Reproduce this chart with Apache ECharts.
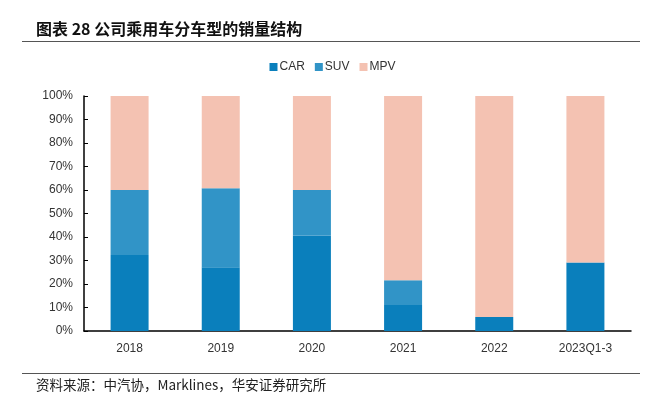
<!DOCTYPE html>
<html><head><meta charset="utf-8">
<script src="https://cdn.jsdelivr.net/npm/echarts@6/dist/echarts.min.js"></script>
<style>html,body{margin:0;padding:0;background:#fff}#c{width:665px;height:394px}</style>
</head><body><div id="c"></div>
<script>
const categories = ['2018','2019','2020','2021','2022','2023Q1-3'];
const carValues = [32.3, 27.1, 40.6, 11.1, 6.0, 29.1];
const suvValues = [27.7, 33.6, 19.4, 10.5, 0, 0];
const mpvValues = [40.0, 39.3, 40.0, 78.4, 94.0, 70.9];
const yTicks = [0,10,20,30,40,50,60,70,80,90,100];

const chart = echarts.init(document.getElementById('c'));
const font = 'Arial, "Liberation Sans", sans-serif';
chart.setOption({
  animation:false,
  title:[{text:'图表 28 公司乘用车分车型的销量结构', left:31, top:16,
    textStyle:{fontSize:16, fontWeight:'bold', color:'#111', fontFamily:'"Noto Sans CJK SC", sans-serif'}},
    {text:'资料来源：中汽协，Marklines，华安证券研究所', left:31, top:373,
    textStyle:{fontSize:13.5, fontWeight:'normal', color:'#222', fontFamily:'"Noto Sans CJK SC", sans-serif'}}],
  graphic:[
    {type:'line', shape:{x1:22,y1:41.5,x2:640,y2:41.5}, style:{stroke:'#555', lineWidth:1}},
    {type:'line', shape:{x1:22,y1:373.5,x2:640,y2:373.5}, style:{stroke:'#555', lineWidth:1}}
  ],
  legend:{top:56, left:'center', itemWidth:8, itemHeight:8, itemGap:10, icon:'rect',
    textStyle:{fontSize:12, color:'#333', fontFamily:font, padding:[0,0,0,-3]},
    data:['CAR','SUV','MPV']},
  grid:{left:84, right:34, top:96, bottom:63},
  xAxis:{type:'category', data:categories,
    axisLine:{lineStyle:{color:'#000', width:1.5}},
    axisTick:{inside:true, length:4, lineStyle:{color:'#000'}},
    axisLabel:{fontSize:12, color:'#333', fontFamily:font, margin:12}},
  yAxis:{type:'value', min:0, max:100, interval:10,
    axisLine:{show:true, lineStyle:{color:'#000', width:1.5}},
    axisTick:{show:true, inside:true, length:4, lineStyle:{color:'#000'}},
    splitLine:{show:false},
    axisLabel:{formatter:v=>v+'%', fontSize:12, color:'#333', fontFamily:font, margin:11}},
  series:[
    {name:'CAR', type:'bar', stack:'s', data:carValues, barWidth:38, itemStyle:{color:'#0A7FBC'}},
    {name:'SUV', type:'bar', stack:'s', data:suvValues, itemStyle:{color:'#3194C7'}},
    {name:'MPV', type:'bar', stack:'s', data:mpvValues, itemStyle:{color:'#F4C2B2'}}
  ]
});
</script></body></html>
